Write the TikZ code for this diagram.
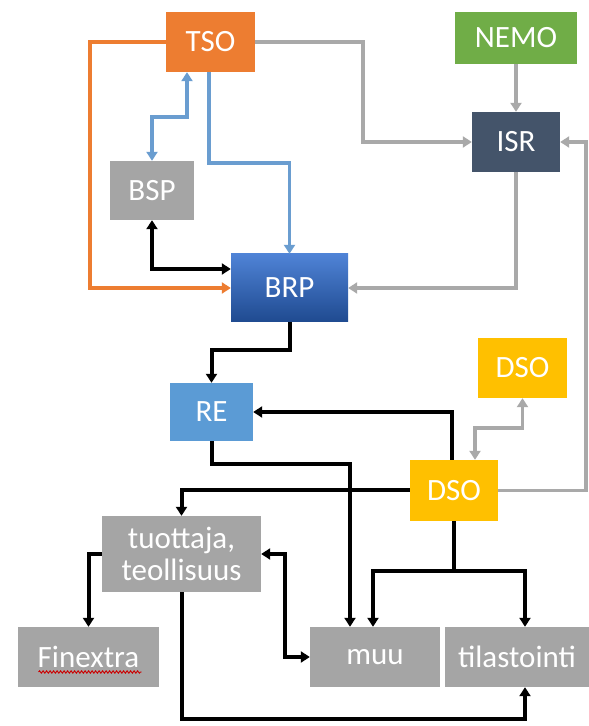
\documentclass[tikz,border=0pt]{standalone}
\usepackage{fontspec}
\setmainfont{Carlito}
\usetikzlibrary{arrows.meta,decorations.pathmorphing}
\definecolor{cOrange}{HTML}{ED7D31}
\definecolor{cGreen}{HTML}{70AD47}
\definecolor{cNavy}{HTML}{44546A}
\definecolor{cGray}{HTML}{A5A5A5}
\definecolor{cBlue}{HTML}{5B9BD5}
\definecolor{cGold}{HTML}{FFC000}
\definecolor{cBrpTop}{HTML}{4F83D6}
\definecolor{cBrpBot}{HTML}{1F4A90}
\definecolor{cLineBlue}{HTML}{6A9DD0}
\definecolor{cLineGray}{HTML}{A9A9A9}
\tikzset{
  box/.style={rectangle, inner sep=0pt, text=white, align=center,
    font=\fontsize{31}{32}\selectfont},
  tip/.style={-{Triangle[length=9pt,width=11pt]}},
  tiptwo/.style={{Triangle[length=9pt,width=11pt]}-{Triangle[length=9pt,width=11pt]}},
  blk/.style={draw=black, line width=4pt},
  gry/.style={draw=cLineGray, line width=3.5pt},
  blu/.style={draw=cLineBlue, line width=3.5pt},
  org/.style={draw=cOrange, line width=3.5pt},
}
\begin{document}
\begin{tikzpicture}[x=1pt,y=1pt]
\useasboundingbox (0,0) rectangle (589,726);
\fill[white] (0,0) rectangle (589,726);
% nodes
\node[box, fill=cOrange, minimum width=89, minimum height=60] (tso) at (210.5,684) {TSO};
\node[box, fill=cGreen, minimum width=122, minimum height=52] (nemo) at (516,688) {NEMO};
\node[box, fill=cNavy, minimum width=88, minimum height=60] (isr) at (516,584) {ISR};
\node[box, fill=cGray, minimum width=84, minimum height=59] (bsp) at (152,535.5) {BSP};
\node[box, top color=cBrpTop, bottom color=cBrpBot, minimum width=117, minimum height=68] (brp) at (289.5,438) {BRP};
\node[box, fill=cBlue, minimum width=83, minimum height=58] (re) at (211.5,314) {RE};
\node[box, fill=cGold, minimum width=89, minimum height=60] (dsoa) at (522.5,358) {DSO};
\node[box, fill=cGold, minimum width=88, minimum height=61] (dso) at (454,235.5) {DSO};
\node[box, fill=cGray, minimum width=159, minimum height=76] (tuot) at (181.5,172) {tuottaja,\\teollisuus};
\node[box, fill=cGray, minimum width=141, minimum height=60] (fin) at (88.5,69) {Finextra};
\node[box, fill=cGray, minimum width=130, minimum height=60] (muu) at (375,69) {muu};
\node[box, fill=cGray, minimum width=144, minimum height=60] (tila) at (517,69) {tilastointi};
% spell-check underline
\draw[red!80!black, line width=0.9pt, decorate, decoration={snake, amplitude=1.2pt, segment length=3.5pt}]
  ([xshift=-50, yshift=-15]fin.center) -- ([xshift=53, yshift=-15]fin.center);
% connectors
\draw[org, tip] (tso.west) -- (90,684) -- (90,438) -- (brp.west);
\draw[blu, tiptwo] ([xshift=-23.5]tso.south) -- (187,609) -- (152,609) -- (bsp.north);
\draw[blu, tip] ([xshift=-1.5]tso.south) -- (209,563) -- (289.5,563) -- (brp.north);
\draw[gry, tip] (tso.east) -- (363,684) |- (isr.west);
\draw[gry, tip] (nemo.south) -- (isr.north);
\draw[gry, tip] (isr.south) |- (brp.east);
\draw[gry, tip] (dso.east) -- (586,235.5) -- (586,584) -- (isr.east);
\draw[blk, tiptwo] (bsp.south) |- ([yshift=19]brp.west);
\draw[blk, tip] (brp.south) -- (289.5,376) -| (re.north);
\draw[blk, tip] ([xshift=-2]dso.north) |- (re.east);
\draw[blk, tip] (re.south) -- (211.5,262) -| ([xshift=-25]muu.north);
\draw[gry, tiptwo] ([xshift=21]dso.north) -- (475,298) -| (dsoa.south);
\draw[blk, tip] (dso.west) -| (tuot.north);
\draw[blk, tip] (dso.south) -- (454,155) -| ([xshift=-2]muu.north);
\draw[blk, tip] (454,155) -| ([xshift=8]tila.north);
\draw[blk, tip] (tuot.west) -| (fin.north);
\draw[blk, tiptwo] (tuot.east) -- (285,172) |- (muu.west);
\draw[blk, tip] (tuot.south) -- (181.5,7) -| ([xshift=8]tila.south);
\end{tikzpicture}
\end{document}
